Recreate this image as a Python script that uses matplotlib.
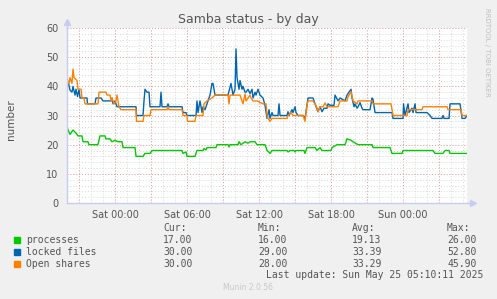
import numpy as np
import matplotlib
matplotlib.use("Agg")
import matplotlib.pyplot as plt

# time axis: hours relative to Sat 00:00
x_start = -4.0
x_end = 29.33

tick_hours = [0, 6, 12, 18, 24]
tick_labels = ["Sat 00:00", "Sat 06:00", "Sat 12:00", "Sat 18:00", "Sun 00:00"]

# processes (green)
proc_t = [-4.00, -3.75, -3.67, -3.50, -3.25, -3.08, -2.75, -2.67, -2.25, -2.17, -1.42, -1.25,
          -0.83, -0.75, -0.42, -0.25, 0.00, 0.25, 0.58, 0.67, 1.67, 1.75, 2.33, 2.50, 2.92,
          3.08, 5.58, 5.67, 5.92, 6.00, 6.67, 6.83, 7.33, 7.42, 7.58, 7.67, 8.42, 8.50, 9.42,
          9.50, 9.58, 10.25, 10.33, 10.50, 10.67, 10.83, 11.08, 11.25, 11.67, 11.83, 12.50,
          12.67, 12.92, 13.08, 14.33, 14.42, 14.58, 14.92, 15.00, 15.08, 15.75, 15.83, 16.00,
          16.67, 16.83, 17.08, 17.25, 18.00, 18.08, 18.50, 19.17, 19.33, 19.67, 19.83, 20.25,
          21.42, 21.50, 22.92, 23.08, 23.92, 24.00, 26.50, 26.67, 27.33, 27.50, 27.83, 27.92,
          29.33]
proc_v = [26, 23.5, 24, 25, 24, 23, 23, 21, 21, 20, 20, 23,
          23, 22, 22, 21, 21.5, 21, 21, 19, 19, 16, 16, 17, 17,
          18, 18, 17, 17.5, 16, 16, 18, 18, 18.7, 18.2, 19, 19, 20, 20,
          19.2, 20, 20, 21, 20, 20.5, 21, 20.5, 21, 21, 20, 20,
          18, 17, 18, 18, 17.5, 18, 18, 17.5, 18, 18, 17, 19,
          19, 18, 19, 18, 18, 19, 20, 20, 22, 21.5, 21, 20,
          20, 19, 19, 17, 17, 18, 18, 17, 17, 18, 18, 17,
          17]

# locked files (blue), sampled by pixel column
locked_x = [67, 68.5, 70, 72, 73, 75, 76, 77.5, 79, 80, 87, 87.5, 95, 96, 98, 101, 103, 107, 111,
            112, 113, 115, 117, 136, 136.5, 143, 144, 145, 147, 149, 150, 160, 161, 162, 167, 168,
            169, 182, 183, 186, 187, 195, 196, 197, 198, 200, 202, 203, 205, 208, 210, 212, 213,
            215, 225, 228, 231, 233, 235, 236, 237, 239, 240, 242, 243, 245, 246, 248, 250, 252,
            253, 255, 256, 258, 260, 263, 265, 267, 269, 270, 272, 273, 278, 279, 280, 287, 288,
            289, 292, 293, 295, 296, 298, 303, 305, 307, 308, 313, 315, 318, 320, 322, 324, 327,
            328, 330, 334, 335, 338, 340, 345, 347, 351, 352, 354, 355, 357, 358, 360, 362, 363,
            370, 372, 373, 375, 392, 393, 403, 403.5, 405, 408, 409, 412, 413, 415, 416, 427, 430,
            432, 442, 443, 444, 449, 450, 460, 462, 465, 467]
locked_v = [42.5, 41, 38.7, 38, 40, 37, 39, 36.5, 39, 36, 36, 34, 34, 36, 36, 36, 35, 35, 35,
            36, 34, 35, 33, 33, 30, 30, 35, 39, 38, 38, 33, 33, 38, 33, 33, 34,
            33, 33, 31, 31, 30, 30, 30, 35, 31, 35, 31, 33, 32, 35, 37, 41, 41,
            37, 37, 37, 41, 37, 39, 52.8, 43, 39, 42, 39, 40, 38, 38, 39, 37.5, 39,
            36, 38, 37, 39, 37, 36, 33.5, 29, 32, 29, 31, 30, 30, 34, 30, 30, 31.3,
            30, 32, 31, 33, 31, 30, 30, 29, 33.5, 36, 36, 34, 31.3, 33, 31.3, 32.5, 32.5,
            34, 33.5, 33.5, 37, 35, 36, 35, 37, 39, 36, 33, 34, 32.5, 33, 34.4, 32.5, 32,
            32, 36, 35.5, 31, 31, 29, 29, 34, 30, 34, 31, 32.5, 31, 34, 31, 31, 30,
            29, 29, 30, 29, 29, 34, 34, 29, 29, 30]

# open shares (orange)
shares_x = [67, 69, 70, 72, 73, 74, 77, 78, 81, 82, 84, 85, 98, 99, 106, 107, 110, 111, 112,
            114, 116, 117, 118, 119, 121, 136, 136.5, 143, 144, 150, 151, 167, 168, 169, 182,
            183, 187, 187.5, 195, 196, 203, 204, 207, 212, 215, 228, 229, 230, 240, 241, 243,
            245, 246, 248, 250, 251, 253, 257, 263, 266, 267, 268, 270, 272, 287, 288, 291, 293,
            303, 305, 307, 308, 313, 315, 317, 318, 320, 323, 325, 327, 338, 340, 347, 348, 351,
            353, 357, 358, 372, 373, 391, 392, 393, 407, 408, 422, 423, 447, 448, 461, 462, 467]
shares_v = [42, 41, 43, 41, 45.9, 43, 42, 39, 39, 36, 36, 34, 34, 38, 38, 37, 37, 35, 36,
            34, 35, 37, 35, 33, 32, 32, 28, 28, 30, 30, 32, 32, 33, 32, 32,
            30, 30, 28, 28, 30, 30, 34, 35, 36, 37, 37, 34, 37, 37, 36, 34,
            37.4, 35, 36, 37, 36, 35, 35, 34, 34, 30, 29, 28, 29, 29, 30, 31, 30,
            30, 28, 33.6, 35, 35, 34, 32.5, 31.3, 33, 33, 34.3, 33, 33, 35, 35, 36.4, 38.2,
            35, 34, 35, 35, 34, 34, 32, 30, 30, 32, 32, 33, 33, 32, 32, 30, 30]

legend_names = ["processes", "locked files", "Open shares"]
legend_colors = ["#00CC00", "#0066B3", "#FF8000"]
cur_vals = ["17.00", "30.00", "30.00"]
min_vals = ["16.00", "29.00", "28.00"]
avg_vals = ["19.13", "33.39", "33.29"]
max_vals = ["26.00", "52.80", "45.90"]


def px_to_hours(xs):
    # Sat 00:00 sits at pixel 115, 12 px per hour
    return (np.array(xs) - 115.0) / 12.0


W, H = 497, 299
fig = plt.figure(figsize=(W / 100, H / 100), dpi=100, facecolor="#F0F0F0")
ax = fig.add_axes([67 / W, 1 - 203 / H, 400 / W, 175 / H])
ax.set_facecolor("white")
ax.set_xlim(x_start, x_end)
ax.set_ylim(0, 60)

# grid: minor grey, major red, all dotted
for h in np.arange(-4, 30, 1):
    ax.axvline(h, color="#d8d8d8", lw=0.7, ls=(0, (1, 2)), zorder=1)
for h in np.arange(-3, 30, 3):
    ax.axvline(h, color="#e8a0a0", lw=0.7, ls=(0, (1, 2)), zorder=1)
for v in np.arange(2, 61, 2):
    ax.axhline(v, color="#d8d8d8", lw=0.7, ls=(0, (1, 2)), zorder=1)
for v in np.arange(10, 61, 10):
    ax.axhline(v, color="#e8a0a0", lw=0.7, ls=(0, (1, 2)), zorder=1)

ax.plot(proc_t, proc_v, color=legend_colors[0], lw=1.0, zorder=3)
ax.plot(px_to_hours(locked_x), locked_v, color=legend_colors[1], lw=1.0, zorder=3)
ax.plot(px_to_hours(shares_x), shares_v, color=legend_colors[2], lw=1.0, zorder=4)

for s in ["top", "right"]:
    ax.spines[s].set_visible(False)
for s in ["left", "bottom"]:
    ax.spines[s].set_color("#c8ccf0")
    ax.spines[s].set_linewidth(1.0)
ax.spines["left"].set_zorder(5)

# little arrows at axis ends
ax.plot([x_start], [62], marker="^", color="#c8ccf0", ms=5, clip_on=False, zorder=5)
ax.plot([x_end + 0.5], [0], marker=">", color="#c8ccf0", ms=5, clip_on=False, zorder=5)
ax.plot([x_start, x_start], [60, 62], color="#c8ccf0", lw=1.0, clip_on=False)
ax.plot([x_end, x_end + 0.5], [0, 0], color="#c8ccf0", lw=1.0, clip_on=False)

ax.set_yticks(np.arange(0, 61, 10))
ax.set_xticks(tick_hours)
ax.set_xticklabels(tick_labels)
ax.tick_params(axis="both", length=0, labelsize=7, colors="#555555")
ax.tick_params(axis="y", pad=6)
ax.tick_params(axis="x", pad=5)

fig.text(248 / W, 1 - 20 / H, "Samba status - by day", ha="center", va="center",
         fontsize=9, color="#555555")
fig.text(11 / W, 1 - 120 / H, "number", rotation=90, ha="center", va="center",
         fontsize=7.5, color="#555555")
fig.text(487 / W, 1 - 52 / H, "RRDTOOL / TOBI OETIKER", rotation=-90, ha="center",
         va="center", fontsize=5, color="#c0c0c0")

# legend block in monospace
mono = "DejaVu Sans Mono"
cols_x = [163, 258, 352, 447]
heads = ["Cur:", "Min:", "Avg:", "Max:"]
for cx, hd in zip(cols_x, heads):
    fig.text(cx / W, 1 - 228 / H, hd, family=mono, fontsize=7, color="#555555", va="center")

rows_y = [240, 252, 264]
for i in range(3):
    ry = rows_y[i]
    fig.patches.append(plt.Rectangle((14 / W, 1 - (ry + 3) / H), 6 / W, 6 / H,
                                     transform=fig.transFigure, color=legend_colors[i]))
    fig.text(26 / W, 1 - ry / H, legend_names[i], family=mono, fontsize=7, color="#555555",
             va="center")
    row = [cur_vals[i], min_vals[i], avg_vals[i], max_vals[i]]
    for cx, val in zip(cols_x, row):
        fig.text(cx / W, 1 - ry / H, val, family=mono, fontsize=7, color="#555555", va="center")

fig.text(483 / W, 1 - 275.5 / H, "Last update: Sun May 25 05:10:11 2025", family=mono,
         fontsize=7, color="#555555", ha="right", va="center")
fig.text(248 / W, 1 - 288 / H, "Munin 2.0.56", fontsize=5.5, color="#c8c8c8",
         ha="center", va="center")

fig.savefig("out.png", dpi=100, facecolor=fig.get_facecolor())
